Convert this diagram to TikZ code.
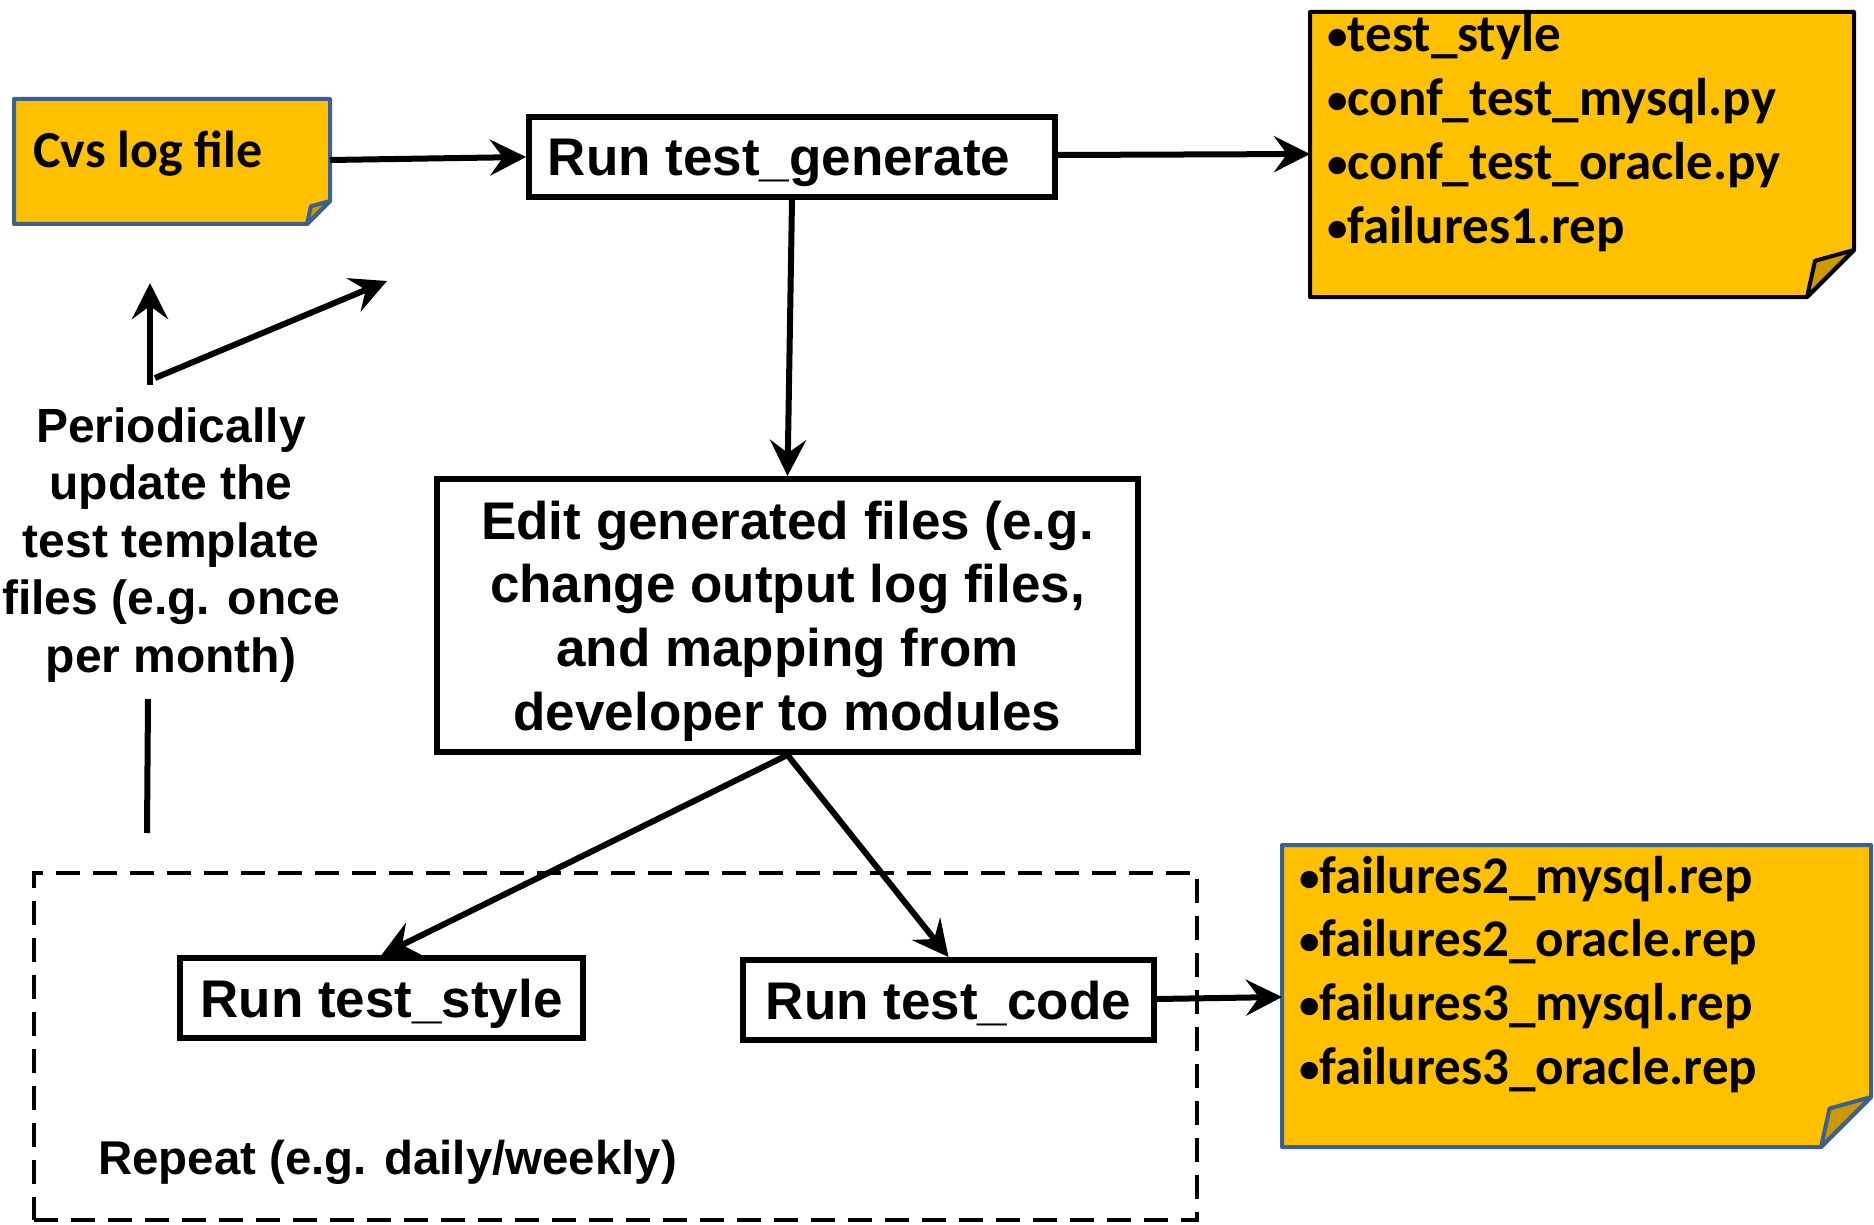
\documentclass[tikz,border=0pt]{standalone}
\usepackage{fontspec}
\setmainfont{Liberation Sans}
\newfontfamily\calfont{Carlito}
\usetikzlibrary{arrows.meta,calc}
\definecolor{noteyellow}{RGB}{255,192,0}
\definecolor{folddark}{RGB}{204,153,0}
\definecolor{noteblue}{RGB}{60,96,144}
\newcommand\mynote[3]{%
  \filldraw[fill=noteyellow, draw=#2, line width=4pt, line join=round]
    (#1.north west) -- (#1.north east) -- ($(#1.south east)+(0,-#3)$)
    -- ($(#1.south east)+(-#3,0)$) -- (#1.south west) -- cycle;
  \filldraw[fill=folddark, draw=#2, line width=4pt, line join=round]
    ($(#1.south east)+(0,-#3)$) -- ($(#1.south east)+(-0.83*#3,-0.77*#3)$)
    -- ($(#1.south east)+(-#3,0)$) -- cycle;}
\newcommand\bul{\raisebox{2pt}{\fontsize{41}{41}\selectfont•}}
\begin{document}
\begin{tikzpicture}[x=1pt,y=-1pt,
  stepbox/.style={draw, line width=6pt, rectangle, inner sep=0pt,
    font=\bfseries\fontsize{53}{63.7}\selectfont},
  oneline/.style={text height=38pt, text depth=0pt},
  notearea/.style={rectangle, inner sep=0pt, outer sep=0pt},
  notetext/.style={anchor=base west, inner sep=0pt,
    font=\calfont\bfseries\fontsize{53}{61}\selectfont},
  plain/.style={inner sep=0pt, font=\bfseries\fontsize{48}{57.5}\selectfont},
  arr/.style={line width=6pt, -{Stealth[length=36pt,width=36pt,inset=13pt]}},
  bare/.style={line width=6pt},
  loopbox/.style={draw, line width=4pt, dash pattern=on 24pt off 13pt, rectangle, inner sep=0pt}]
\useasboundingbox (0,0) rectangle (1874,1225);

% notes
\node[notearea, minimum width=316pt, minimum height=125pt] (cvs) at (172,161.5) {};
\mynote{cvs}{noteblue}{23}
\node[anchor=base west, inner sep=0pt, font=\calfont\bfseries\fontsize{52}{62}\selectfont] (cvst) at (33,168) {Cvs log file};

\node[notearea, minimum width=544pt, minimum height=285pt] (out1) at (1582,154.5) {};
\mynote{out1}{black}{47}
\node[notetext] (o1a) at (1327,52) {\bul test\_style};
\node[notetext] (o1b) at (1327,115.7) {\bul conf\_test\_mysql.py};
\node[notetext] (o1c) at (1327,179.4) {\bul conf\_test\_oracle.py};
\node[notetext] (o1d) at (1327,243.1) {\bul failures1.rep};

\node[notearea, minimum width=589pt, minimum height=302pt] (out2) at (1576.5,996) {};
\mynote{out2}{noteblue}{50}
\node[notetext] (o2a) at (1299,893) {\bul failures2\_mysql.rep};
\node[notetext] (o2b) at (1299,956.7) {\bul failures2\_oracle.rep};
\node[notetext] (o2c) at (1299,1020.4) {\bul failures3\_mysql.rep};
\node[notetext] (o2d) at (1299,1084.1) {\bul failures3\_oracle.rep};

% dashed loop
\node[loopbox, minimum width=1163pt, minimum height=347pt] (loop) at (615.5,1046.5) {};

% process boxes
\node[stepbox, oneline, minimum width=526pt, minimum height=80pt] (gen) at (792,157) {Run test\_generate\hspace*{26pt}};
\node[stepbox, align=center, text depth=0pt, minimum width=701pt, minimum height=273pt] (edit) at (787.5,615.5)
  {Edit generated files (e.g.\\change output log files,\\and mapping from\\developer to modules};
\node[stepbox, oneline, minimum width=403pt, minimum height=80pt] (style) at (381.5,998) {Run test\_style};
\node[stepbox, oneline, minimum width=411pt, minimum height=80pt] (code) at (948.5,1000) {Run test\_code};

% free texts
\node[plain, align=center] (per) at (171,545) {Periodically\\update the\\test template\\files (e.g. once\\per month)};
\node[plain, anchor=base west, font=\bfseries\fontsize{47.4}{57}\selectfont] (rep) at (98,1174) {Repeat (e.g. daily/weekly)};

% connectors
\draw[arr] (cvs.east |- 0,160) -- (gen.west |- 0,157);
\draw[arr] (gen.east |- 0,155) -- (out1.west |- 0,154);
\draw[arr] (gen.south) -- (edit.north);
\draw[arr] (edit.south) -- (style.north);
\draw[arr] (edit.south) -- (code.north);
\draw[arr] (code.east |- 0,999) -- (out2.west |- 0,997);

\coordinate (lo) at (147,833);
\coordinate (hi) at (148,699);
\draw[bare] (lo) -- (hi);
\coordinate (stem) at (150,385);
\coordinate (uptip) at (150,283);
\coordinate (dstart) at (155,378);
\coordinate (dtip) at (387,281);
\draw[arr] (stem) -- (uptip);
\draw[arr] (dstart) -- (dtip);
\end{tikzpicture}
\end{document}
